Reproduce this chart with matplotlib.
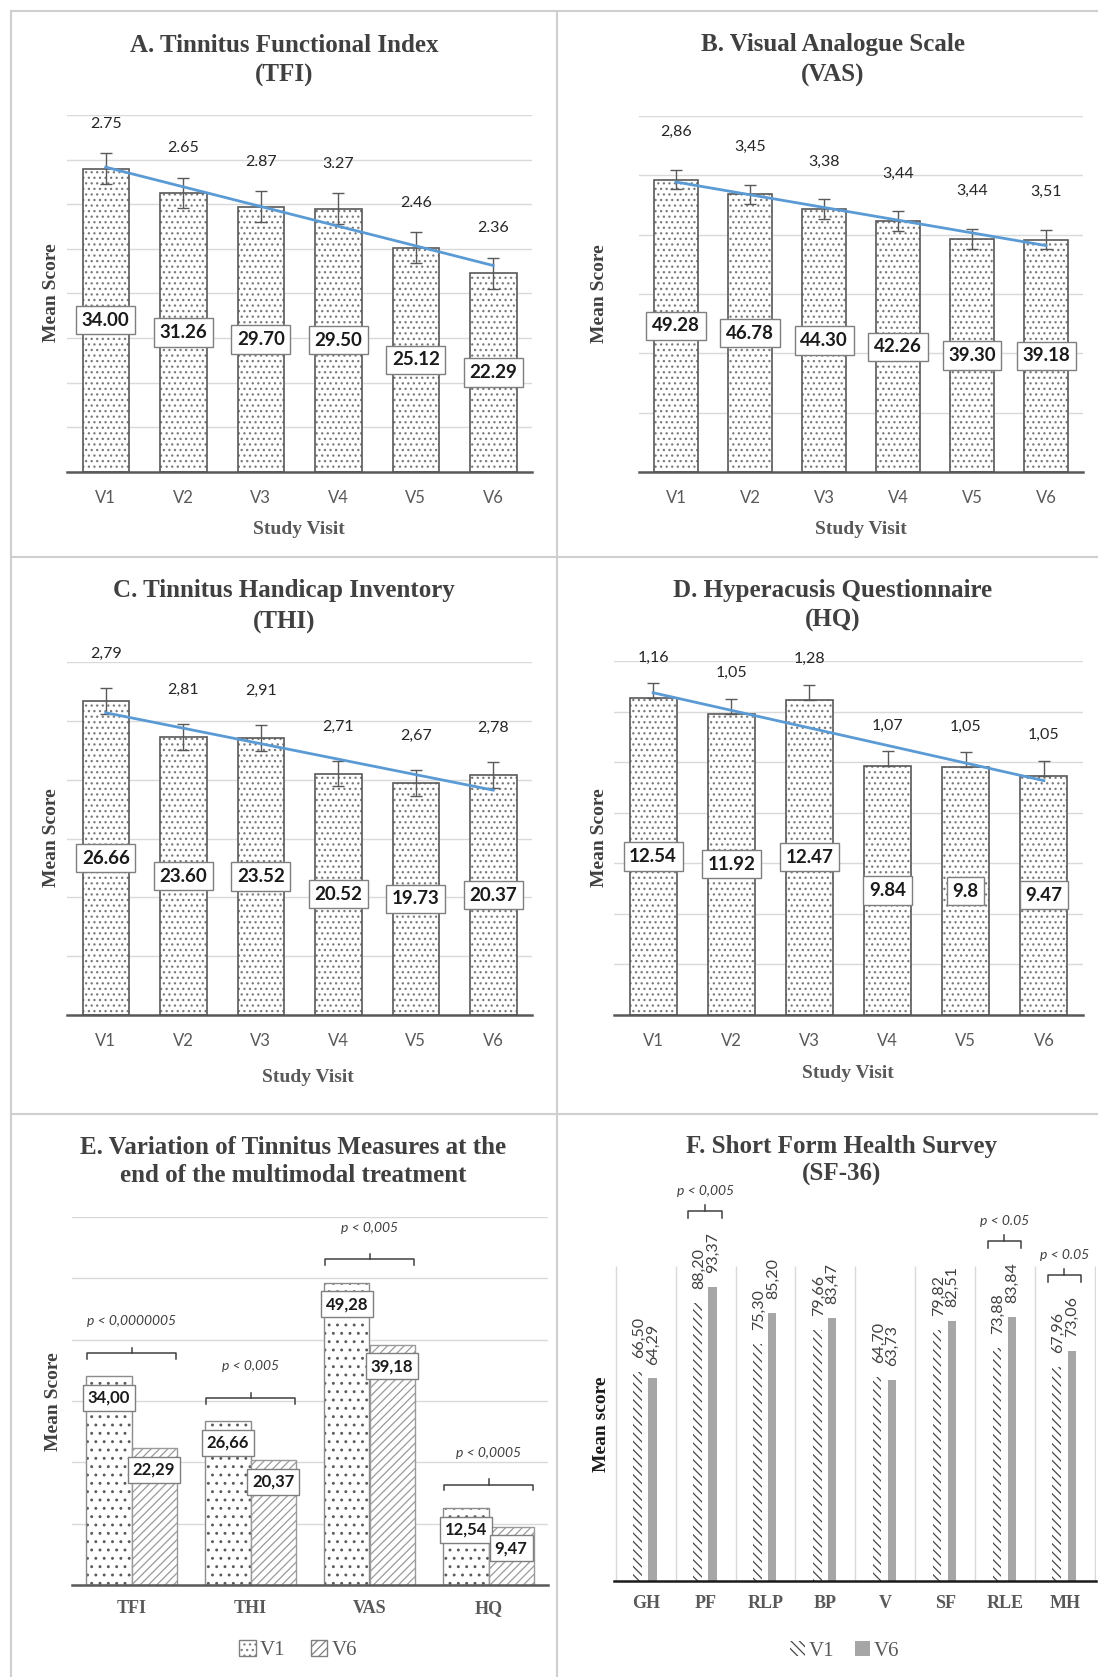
import matplotlib
matplotlib.use("Agg")
import matplotlib.pyplot as plt
import numpy as np
from matplotlib.lines import Line2D
from matplotlib.patches import Patch


W, H = 1098, 1677
DPI = 100

SERIF = "Liberation Serif"
SANS = ["Lato", "DejaVu Sans"]

visits = ["V1", "V2", "V3", "V4", "V5", "V6"]

tfi_mean = [34.00, 31.26, 29.70, 29.50, 25.12, 22.29]
tfi_sd = [2.75, 2.65, 2.87, 3.27, 2.46, 2.36]
vas_mean = [49.28, 46.78, 44.30, 42.26, 39.30, 39.18]
vas_sd = [2.86, 3.45, 3.38, 3.44, 3.44, 3.51]
thi_mean = [26.66, 23.60, 23.52, 20.52, 19.73, 20.37]
thi_sd = [2.79, 2.81, 2.91, 2.71, 2.67, 2.78]
hq_mean = [12.54, 11.92, 12.47, 9.84, 9.8, 9.47]
hq_sd = [1.16, 1.05, 1.28, 1.07, 1.05, 1.05]

measures = ["TFI", "THI", "VAS", "HQ"]
measures_v1 = [34.00, 26.66, 49.28, 12.54]
measures_v6 = [22.29, 20.37, 39.18, 9.47]
measures_p = ["p < 0,0000005", "p < 0,005", "p < 0,005", "p < 0,0005"]

sf36_domains = ["GH", "PF", "RLP", "BP", "V", "SF", "RLE", "MH"]
sf36_v1 = [66.50, 88.20, 75.30, 79.66, 64.70, 79.82, 73.88, 67.96]
sf36_v6 = [64.29, 93.37, 85.20, 83.47, 63.73, 82.51, 83.84, 73.06]
sf36_p = {"PF": "p < 0,005", "RLE": "p < 0.05", "MH": "p < 0.05"}

GRID = "#d9d9d9"
DARK = "#404040"
MID = "#595959"
TREND = "#5b9bd5"

plt.rcParams["font.family"] = SANS
plt.rcParams["hatch.linewidth"] = 0.9


def px_rect(left, top, right, bottom):
    return [left / W, 1 - bottom / H, (right - left) / W, (bottom - top) / H]


def fig_text(fig, x, y, s, **kw):
    kw.setdefault("ha", "center")
    kw.setdefault("va", "center")
    fig.text(x / W, 1 - y / H, s, **kw)


def panel_title(fig, x, y1, y2, line1, line2):
    fig_text(fig, x, y1, line1, family=SERIF, fontweight="bold",
             fontsize=18, color=DARK)
    fig_text(fig, x, y2, line2, family=SERIF, fontweight="bold",
             fontsize=18, color=DARK)


def style_axis(ax, ymax, ystep, grid=True):
    ax.set_ylim(0, ymax)
    ax.set_yticks(np.arange(0, ymax + ystep / 2, ystep))
    ax.tick_params(axis="y", length=0, labelleft=False)
    ax.tick_params(axis="x", length=0)
    if grid:
        ax.yaxis.grid(True, color=GRID, linewidth=1)
    ax.set_axisbelow(True)
    for side in ["left", "right", "top"]:
        ax.spines[side].set_visible(False)
    ax.spines["bottom"].set_color(MID)
    ax.spines["bottom"].set_linewidth(1.8)
    ax.spines["bottom"].set_zorder(6)


def draw_visit_panel(fig, rect, means, sds, ymax, ystep, sd_offset, sd_sep,
                     mean_fmt, plus_only=False):
    ax = fig.add_axes(px_rect(*rect))
    x = np.arange(len(visits))
    means = np.asarray(means, dtype=float)

    ax.bar(x, means, 0.6, color="white", edgecolor="#7a7a7a", hatch="...",
           linewidth=0, zorder=2)
    ax.bar(x, means, 0.6, fill=False, edgecolor=MID, linewidth=1.2, zorder=2)

    # standard error of the plotted series, as spreadsheet error bars do
    se = np.std(means, ddof=1) / np.sqrt(len(means))
    if plus_only:
        yerr = [np.zeros_like(means), np.full_like(means, se)]
    else:
        yerr = se
    ax.errorbar(x, means, yerr=yerr, fmt="none", ecolor=MID, elinewidth=1,
                capsize=4, capthick=1, zorder=3)

    slope, intercept = np.polyfit(x, means, 1)
    ends = x[[0, -1]]
    ax.plot(ends, slope * ends + intercept, color=TREND, linewidth=2,
            zorder=4)

    for xi, m, s in zip(x, means, sds):
        ax.text(xi, m / 2, format(m, mean_fmt), ha="center", va="center",
                fontsize=13.5, fontweight="bold", color="#1a1a1a", zorder=5,
                bbox=dict(boxstyle="square,pad=0.3", fc="white",
                          ec="#7f7f7f", lw=1))
        ax.text(xi, m + sd_offset, f"{s:.2f}".replace(".", sd_sep),
                ha="center", va="center", fontsize=11.5, color="#262626")

    ax.set_xlim(-0.5, len(visits) - 0.5)
    ax.set_xticks(x)
    ax.set_xticklabels(visits, fontsize=12, color=MID)
    ax.tick_params(axis="x", pad=13)
    style_axis(ax, ymax, ystep)
    return ax


def draw_bracket(ax, x1, x2, y, drop, rise, color="#404040"):
    xm = (x1 + x2) / 2
    ax.plot([x1, x1, x2, x2], [y - drop, y, y, y - drop], color=color,
            linewidth=1.1, clip_on=False, zorder=6)
    ax.plot([xm, xm], [y, y + rise], color=color, linewidth=1.1,
            clip_on=False, zorder=6)


def draw_measures_panel(fig, rect):
    ax = fig.add_axes(px_rect(*rect))
    x = np.arange(len(measures))
    w = 0.38

    ax.bar(x - w / 2, measures_v1, w, color="white", edgecolor="#5a5a5a",
           hatch="..", linewidth=0, zorder=2)
    ax.bar(x - w / 2, measures_v1, w, fill=False, edgecolor="#8c8c8c",
           linewidth=1, zorder=2)
    ax.bar(x + w / 2, measures_v6, w, color="white", edgecolor="#9a9a9a",
           hatch="////", linewidth=1, zorder=2)

    for xi, a, b, p in zip(x, measures_v1, measures_v6, measures_p):
        for xb, v in [(xi - w / 2, a), (xi + w / 2, b)]:
            ax.text(xb, v - 3.5, f"{v:.2f}".replace(".", ","), ha="center",
                    va="center", fontsize=12, fontweight="bold",
                    color="#1a1a1a", zorder=5,
                    bbox=dict(boxstyle="square,pad=0.3", fc="white",
                              ec="#7f7f7f", lw=1))
        top = max(a, b) + 3.8
        draw_bracket(ax, xi - 0.37, xi + 0.37, top, 0.9, 0.9)
        ax.text(xi, top + 5.2, p, ha="center", va="center", fontsize=10,
                style="italic", color=DARK)

    ax.set_xlim(-0.5, len(measures) - 0.5)
    ax.set_xticks(x)
    ax.set_xticklabels(measures, family=SERIF, fontweight="bold",
                       fontsize=13, color=MID)
    ax.tick_params(axis="x", pad=11)
    style_axis(ax, 60, 10)

    handles = [
        Patch(facecolor="white", edgecolor="#7f7f7f", hatch="..."),
        Patch(facecolor="white", edgecolor="#7f7f7f", hatch="////"),
    ]
    fig.legend(handles, ["V1", "V6"], loc="center",
               bbox_to_anchor=(298 / W, 1 - 1650 / H), ncol=2,
               frameon=False, handlelength=0.8, handleheight=0.8,
               handletextpad=0.2, columnspacing=1.2,
               prop=dict(family=SERIF, size=15), labelcolor=MID)


def draw_sf36_panel(fig, rect):
    ax = fig.add_axes(px_rect(*rect))
    x = np.arange(len(sf36_domains))
    w = 0.145

    ax.vlines(np.arange(-0.5, len(sf36_domains)), 0, 100, color=GRID,
              linewidth=1, zorder=1)
    ax.bar(x - 0.135, sf36_v1, w, color="white", edgecolor="#474747",
           hatch="\\\\\\\\", linewidth=0, zorder=2)
    ax.bar(x + 0.115, sf36_v6, w * 0.95, color="#a6a6a6", linewidth=0,
           zorder=2)

    for xi, a, b in zip(x, sf36_v1, sf36_v6):
        for xb, v in [(xi - 0.11, a), (xi + 0.12, b)]:
            ax.text(xb, v + 4.4, f"{v:.2f}".replace(".", ","), rotation=90,
                    ha="center", va="bottom", fontsize=11.5, color=DARK)

    for name, p in sf36_p.items():
        i = sf36_domains.index(name)
        top = max(sf36_v1[i], sf36_v6[i]) + 24
        draw_bracket(ax, i - 0.29, i + 0.27, top, 2.0, 2.0)
        ax.text(i - 0.01, top + 6.5, p, ha="center", va="center",
                fontsize=10, style="italic", color=DARK)

    ax.set_xlim(-0.53, len(sf36_domains) - 0.48)
    ax.set_xticks(x)
    ax.set_xticklabels(sf36_domains, family=SERIF, fontweight="bold",
                       fontsize=13, color=MID)
    ax.tick_params(axis="x", pad=10)
    style_axis(ax, 100, 20, grid=False)
    ax.spines["bottom"].set_color("#1a1a1a")

    handles = [
        Patch(facecolor="white", edgecolor="#474747", hatch="\\\\\\\\",
              linewidth=0),
        Patch(facecolor="#a6a6a6", linewidth=0),
    ]
    fig.legend(handles, ["V1", "V6"], loc="center",
               bbox_to_anchor=(845 / W, 1 - 1651 / H), ncol=2,
               frameon=False, handlelength=0.7, handleheight=0.7,
               handletextpad=0.2, columnspacing=1.0,
               prop=dict(family=SERIF, size=15), labelcolor=MID)


def draw_frames(fig):
    color = "#cfcfcf"
    for y in [11, 557, 1114]:
        fig.add_artist(Line2D([11 / W, 1], [1 - y / H, 1 - y / H],
                              color=color, linewidth=1.5))
    for x in [11, 557]:
        fig.add_artist(Line2D([x / W, x / W], [1 - 11 / H, 0],
                              color=color, linewidth=1.5))


def main():
    fig = plt.figure(figsize=(W / DPI, H / DPI), dpi=DPI)
    fig.patch.set_facecolor("white")
    draw_frames(fig)

    ylabel = dict(family=SERIF, fontweight="bold", fontsize=14,
                  color=DARK, rotation=90)
    xlabel = dict(family=SERIF, fontweight="bold", fontsize=14, color=MID)

    # A. TFI
    draw_visit_panel(fig, (67, 115, 532, 472), tfi_mean, tfi_sd, 40, 5,
                     5.0, ".", ".2f")
    panel_title(fig, 284, 45, 75, "A. Tinnitus Functional Index", "(TFI)")
    fig_text(fig, 52, 293, "Mean Score", **ylabel)
    fig_text(fig, 299, 530, "Study Visit", **xlabel)

    # B. VAS
    draw_visit_panel(fig, (639, 116, 1083, 472), vas_mean, vas_sd, 60, 10,
                     8.0, ",", ".2f")
    panel_title(fig, 833, 45, 75, "B. Visual Analogue Scale", "(VAS)")
    fig_text(fig, 599, 294, "Mean Score", **ylabel)
    fig_text(fig, 861, 530, "Study Visit", **xlabel)

    # C. THI
    draw_visit_panel(fig, (67, 662, 532, 1015), thi_mean, thi_sd, 30, 5,
                     4.0, ",", ".2f")
    panel_title(fig, 284, 591, 622, "C. Tinnitus Handicap Inventory",
                "(THI)")
    fig_text(fig, 52, 838, "Mean Score", **ylabel)
    fig_text(fig, 308, 1078, "Study Visit", **xlabel)

    # D. HQ
    draw_visit_panel(fig, (614, 661, 1083, 1015), hq_mean, hq_sd, 14, 2,
                     1.6, ",", "g", plus_only=True)
    panel_title(fig, 833, 591, 620, "D. Hyperacusis Questionnaire", "(HQ)")
    fig_text(fig, 599, 838, "Mean Score", **ylabel)
    fig_text(fig, 848, 1074, "Study Visit", **xlabel)

    # E. V1 vs V6 for the tinnitus measures
    draw_measures_panel(fig, (72, 1217, 548, 1585))
    panel_title(fig, 293, 1148, 1175,
                "E. Variation of Tinnitus Measures at the",
                "end of the multimodal treatment")
    fig_text(fig, 53, 1402, "Mean Score", **ylabel)

    # F. SF-36 domains
    draw_sf36_panel(fig, (614, 1266, 1096, 1581))
    panel_title(fig, 842, 1146, 1174, "F. Short Form Health Survey",
                "(SF-36)")
    fig_text(fig, 601, 1424, "Mean score", family=SERIF, fontweight="bold",
             fontsize=14, color="#1a1a1a", rotation=90)

    fig.savefig("out.png", dpi=DPI, facecolor="white")


if __name__ == "__main__":
    main()
